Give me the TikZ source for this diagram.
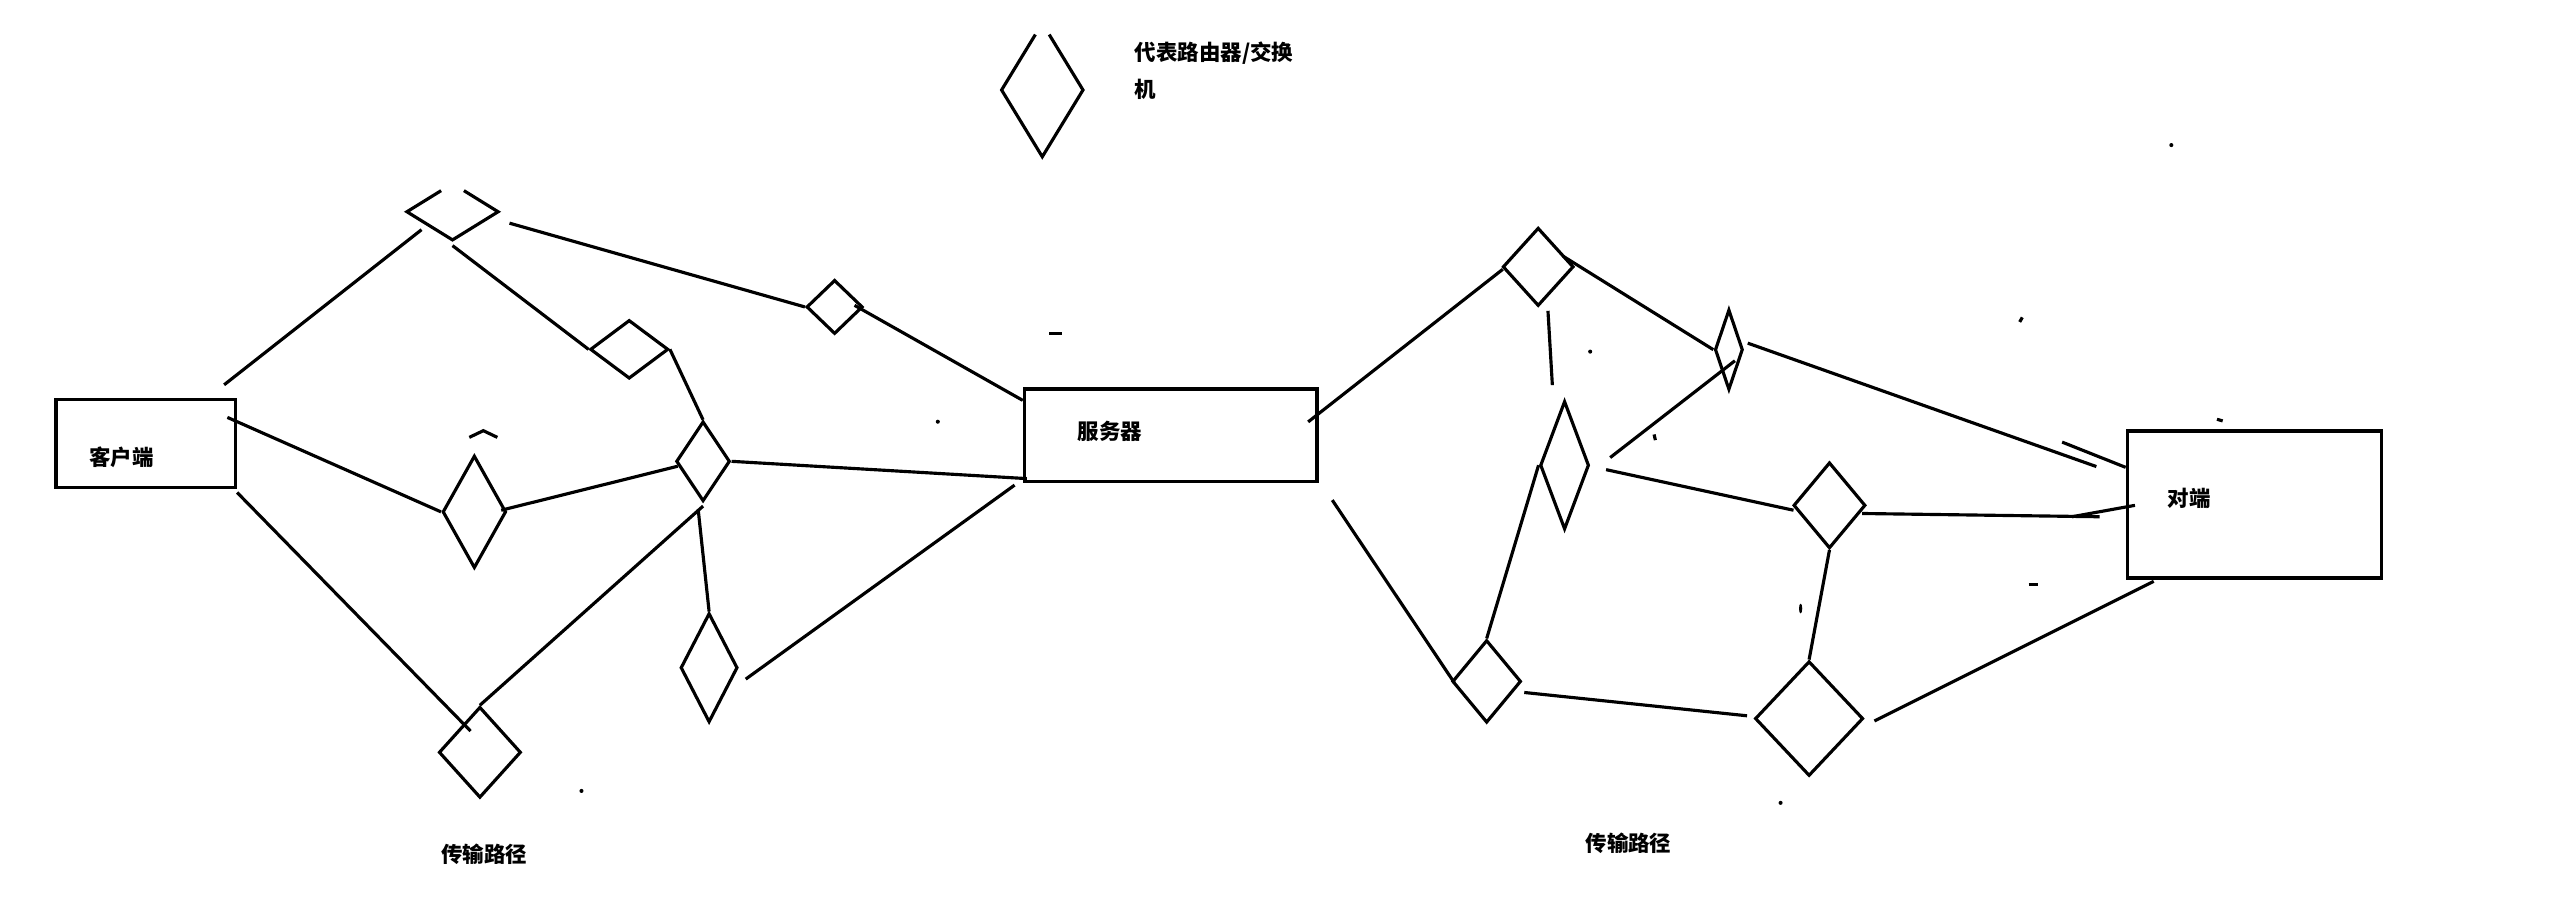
\documentclass[tikz,border=0pt]{standalone}
\usepackage{fontspec}
\newfontfamily\cjk{Noto Sans CJK SC}
\usetikzlibrary{shapes.geometric,calc}
\tikzset{box/.style 2 args={draw,line width=1.25pt,inner sep=0pt,minimum width=#1*0.02cm,minimum height=#2*0.02cm}, router/.style 2 args={diamond,draw,line width=1.1pt,inner sep=0pt,minimum width=#1*0.02cm,minimum height=#2*0.02cm},link/.style={line width=1.1pt},lbl/.style={font=\cjk\bfseries\fontsize{7.5}{13.1}\selectfont,inner sep=0pt,align=left},speck/.style={line width=1.1pt}}
\begin{document}
\begin{tikzpicture}[x=0.02cm,y=-0.02cm]
\useasboundingbox(0,0)rectangle(1568,555);
\node[box={109.9}{53.9}](client)at(89.45,272.1){};\node[box={179.4}{56.8}](server)at(718.2,267.1){};\node[box={155.8}{90.4}](peer)at(1383,309.5){};
\node[lbl](clienttxt)at(74.5,280.7){客户端};\node[lbl](servertxt)at(681,264.8){服务器};\node[lbl](peertxt)at(1343,305.7){对端};
\node[lbl](pathl)at(297,524){传输路径};\node[lbl](pathr)at(999,517.1){传输路径};
\node[router={48}{80},draw=none](key)at(639.4,55.2){};\node[lbl,anchor=west](keytxt)at(695.8,43.25){代表路由器/交换\\机};
\draw[link]($(key.north)!.17!(key.west)$)--(key.west)--(key.south)--(key.east)--($(key.north)!.17!(key.east)$);
\node[router={54}{32.6},draw=none](d1)at(277.6,129.9){};\node[router={48}{36}](d2)at(386,214.3){};\node[router={34.5}{33.2}](d3)at(512,188.3){};
\node[router={39}{69}](d4)at(291,314){};\node[router={33}{49}](d5)at(431.3,283){};\node[router={35}{67}](d6)at(435,409.6){};\node[router={50.4}{55.8}](d7)at(294.4,461.5){};
\draw[link]($(d1.north)!.25!(d1.west)$)--(d1.west)--(d1.south)--(d1.east)--($(d1.north)!.25!(d1.east)$);
\node[router={43.5}{48}](e1)at(943.6,163.7){};\node[router={17.2}{49.3}](e2)at(1060.6,214.5){};\node[router={30}{78.8}](e3)at(959.8,285.4){};
\node[router={44.2}{52.8}](e4)at(1122.3,310){};\node[router={42.2}{50.7}](e5)at(912,418){};\node[router={66.4}{70.4}](e6)at(1109.8,440.8){};
\draw[link]($(client.north east)+(-8,-8)$)--($(d1)+(-19,11)$);\draw[link]($(d1.south)+(0,3.5)$)--(d2.west);\draw[link]($(d1.east)+(7,7)$)--(d3.west);
\draw[link]($(d3.east)+(-6,-1)$)--($(server.north west)+(0,8)$);\draw[link](d2.east)--(d5.north);\draw[link]($(client.north east)+(-6,12)$)--(d4.west);
\draw[link]($(d4.east)+(-4,-1)$)--($(d5.west)+(2,3)$);\draw[link](d5.east)--($(server.south west)+(2.5,-3)$);\draw[link]($(client.south east)+(0,2)$)--($(d7)+(-5.7,-13)$);
\draw[link](d7.north)--($(d5.south)+(0,2)$);\draw[link]($(d5.south)+(-3,4)$)--(d6.north);\draw[link]($(d6.east)+(4,7)$)--($(server.south west)+(-5,1)$);
\draw[link]($(server.east)+(-6.5,-8.3)$)--($(e1.west)+(1,1.5)$);\draw[link]($(e1.north east)+(4,6)$)--(e2.west);\draw[link]($(e1.south)+(6,2)$)--($(e3.north)+(-7.5,-8.8)$);
\draw[link]($(e3.east)+(12,-4.7)$)--($(e2)+(3.7,6.8)$);\draw[link]($(e2.east)+(2,-4)$)--($(peer.north west)+(-18,23)$);\draw[link]($(peer.north west)+(-39,8)$)--($(peer.north west)+(0,23.5)$);
\draw[link]($(e3.east)+(9.5,2.7)$)--($(e4.west)+(1,3)$);\draw[link]($(e4.east)+(-3,5)$)--($(peer.west)+(-16,7.5)$);\draw[link]($(peer.west)+(5.7,0.5)$)--($(peer.west)+(-33,7.5)$);
\draw[link](e4.south)--(e6.north);\draw[link]($(server.south east)+(8.3,10.2)$)--($(e5.west)+(2.4,1.1)$);\draw[link](e5.north)--(e3.west);
\draw[link]($(e5.east)+(1,6.8)$)--($(e6.west)+(-3.9,-1.7)$);\draw[link]($(e6.east)+(5.9,1.5)$)--($(peer.south west)+(17.2,0.8)$);
\draw[speck](287.9,268.3)--(296.5,264.2)--(305.1,268.3);\draw[speck](643.6,204.5)--(651.4,204.5);\draw[speck](1360,257.2)--(1363.5,258.2);\draw[speck](1244.5,358.8)--(1250,358.8);
\draw[speck](1014.7,266.5)--(1015.5,270);\draw[speck](1239,197.5)--(1240.6,194.7);
\fill(575.3,258.7)circle(0.025cm);\fill(356.7,485.2)circle(0.025cm);\fill(975.5,215.7)circle(0.025cm);\fill(1332,89)circle(0.025cm);\fill(1092.3,492.5)circle(0.025cm);\fill(1104.6,373.3)ellipse(0.02cm and 0.06cm);
\end{tikzpicture}
\end{document}
